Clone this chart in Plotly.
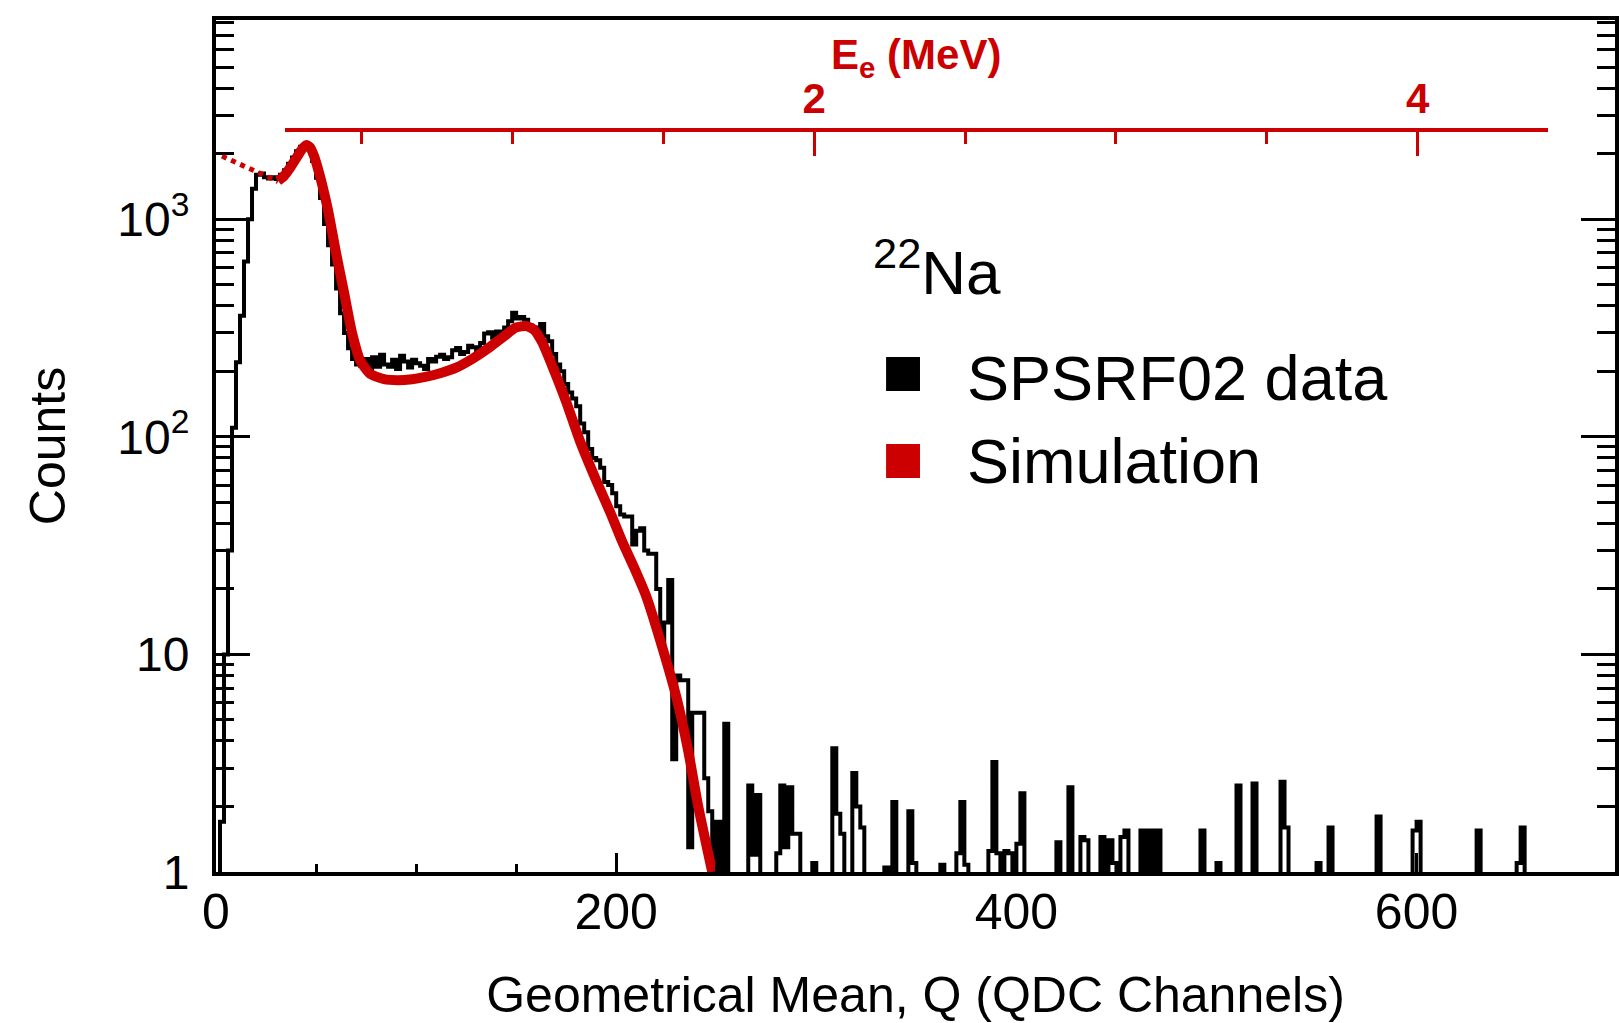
import plotly.graph_objects as go

# ---------------- data ----------------
BIN_WIDTH = 2.0  # QDC channels per histogram bin

# SPSRF02 data: counts of consecutive 2-channel bins starting at Q = 0
main_counts = [
    0, 1.7, 10, 30, 110, 220, 360, 640, 1000, 1380,            # 0-18
    1600, 1620, 1560, 1540, 1560, 1530, 1600, 1680, 1800, 1920,  # 20-38
    2050, 2150, 2200, 2100, 1850, 1550, 1250, 950, 760, 620,     # 40-58
    480, 370, 300, 255, 228, 215, 212, 228, 205, 232,            # 60-78
    210, 238, 215, 210, 226, 205, 236, 222, 208, 226,            # 80-98
    218, 212, 205, 228, 222, 233, 238, 228, 232, 250,            # 100-118
    256, 240, 245, 262, 258, 235, 270, 298, 302, 285,            # 120-138
    305, 300, 318, 340, 372, 350, 355, 345, 325, 318,            # 140-158
    300, 330, 290, 275, 240, 215, 200, 175, 160, 150,            # 160-178
    138, 115, 105, 88, 80, 78, 72, 62, 60, 55,                   # 180-198
    48, 44, 43, 43, 32, 37, 38, 30, 29, 29,                      # 200-218
    20, 11, 14, 22, 3.3, 8, 7.6, 7.6, 1.3, 5.4,                  # 220-238
    5.4, 5.4, 2.7, 1.9, 0, 1.7, 0, 4.8,                          # 240-254
]

# sparse high-Q tail: bin left edge (Q) and counts
tail_q = [266, 268, 270, 280, 282, 284, 286, 288, 290, 298,
          308, 310, 312, 318, 320, 322, 334, 338, 346, 348,
          362, 370, 372, 374, 386, 388, 390, 394, 396, 400,
          402, 420, 426, 432, 434, 442, 446, 448, 452, 454,
          462, 466, 470, 492, 500, 510, 518, 532, 534, 550,
          556, 580, 598, 600, 630, 650, 652]
tail_counts = [2.5, 1.2, 2.26, 1.22, 2.5, 1.3, 2.45, 1.5, 1.5, 1.1,
               3.7, 1.85, 1.5, 2.85, 2.0, 1.6, 1.05, 2.1, 1.9, 1.1,
               1.08, 1.22, 2.1, 1.08, 1.25, 3.2, 1.22, 1.25, 1.22, 1.35,
               2.3, 1.37, 2.45, 1.45, 1.4, 1.45, 1.4, 1.1, 1.45, 1.55,
               1.55, 1.55, 1.55, 1.55, 1.1, 2.5, 2.55, 2.6, 1.6, 1.1,
               1.6, 1.8, 1.55, 1.7, 1.55, 1.1, 1.6]

# Simulation curve (dotted extrapolation, then solid)
sim_dot_q = [3, 31]
sim_dot_y = [1950, 1490]
sim_q = [31, 34, 37, 40, 43, 45, 47, 49, 51, 53, 56, 60, 64, 68, 72, 77,
         84, 91, 98, 104, 112, 120, 128, 137, 144, 150, 155, 159, 163, 168,
         175, 182, 190, 197, 203, 209, 215, 223, 230, 236, 241, 248]
sim_y = [1500, 1580, 1720, 1900, 2100, 2190, 2140, 1950, 1700, 1450, 1100, 700, 460, 300, 225, 195,
         184, 182, 184, 188, 196, 208, 228, 259, 290, 318, 323, 310, 272, 212,
         145, 95, 63, 45, 33, 25, 18.5, 10.8, 6.4, 3.6, 2.0, 1.0]

y_tick_vals = [1, 10, 100, 1000]
y_tick_text = ["1", "10", "10<sup>2</sup>", "10<sup>3</sup>"]
y_minor_vals = [m * d for d in (1, 10, 100, 1000) for m in range(2, 10)]
e_tick_vals = [2, 4]

# ---------------- figure ----------------
RED = "#cc0000"
FONT = "Liberation Sans, Arial, Helvetica, sans-serif"
W, H = 1619, 1023
PL, PR, PT, PB = 216, 1619, 20, 872


def fx(px):
    return (px - PL) / (PR - PL)


def fy(py):
    return (PB - py) / (PB - PT)


n_bins = 350
counts = [0.0] * n_bins
for i, c in enumerate(main_counts):
    counts[i] = c
for q, c in zip(tail_q, tail_counts):
    counts[int(round(q / BIN_WIDTH))] = c
FLOOR = 0.2  # empty bins are drawn below the frame (clipped), like ROOT
edges = [i * BIN_WIDTH for i in range(n_bins + 1)]
hy = [c if c > 0 else FLOOR for c in counts]
hy = hy + [hy[-1]]

fig = go.Figure()
fig.add_trace(go.Scatter(x=edges, y=hy, mode="lines", line=dict(color="black", width=4, shape="hv"),
                         hoverinfo="skip", showlegend=False))
fig.add_trace(go.Scatter(x=sim_dot_q, y=sim_dot_y, mode="lines",
                         line=dict(color=RED, width=5, dash="dot"), hoverinfo="skip", showlegend=False))
fig.add_trace(go.Scatter(x=sim_q, y=sim_y, mode="lines",
                         line=dict(color=RED, width=10, shape="spline", smoothing=0.6),
                         hoverinfo="skip", showlegend=False))
# anchor trace for the energy axis
fig.add_trace(go.Scatter(x=[1], y=[0.01], xaxis="x2", yaxis="y", mode="markers",
                         marker=dict(opacity=0), hoverinfo="skip", showlegend=False))

fig.update_layout(
    width=W, height=H,
    margin=dict(l=PL, r=W - PR, t=PT, b=H - PB, pad=0),
    paper_bgcolor="white", plot_bgcolor="rgba(0,0,0,0)",
    font=dict(family=FONT, color="black"),
    showlegend=False,
    xaxis=dict(
        range=[0, (PR - PL) / 2.0067], showgrid=False, zeroline=False,
        showline=True, linecolor="black", linewidth=4, mirror=True,
        ticks="inside", ticklen=19, tickwidth=3, tickcolor="black",
        tick0=0, dtick=200,
        minor=dict(ticks="inside", ticklen=8, tickwidth=3, tickcolor="black", dtick=50, tick0=0),
        tickfont=dict(size=50, family=FONT), ticklabelstandoff=-7,
        title=dict(text="Geometrical Mean, Q (QDC Channels)", font=dict(size=50, family=FONT), standoff=47),
    ),
    yaxis=dict(
        type="log", range=[0, (PB - PT) / 217.6], showgrid=False, zeroline=False,
        showline=True, linecolor="black", linewidth=4, mirror="ticks",
        ticks="inside", ticklen=34, tickwidth=3, tickcolor="black",
        tickvals=y_tick_vals, ticktext=y_tick_text,
        minor=dict(ticks="inside", ticklen=18, tickwidth=3, tickcolor="black", tickvals=y_minor_vals),
        tickfont=dict(size=48, family=FONT), ticklabelstandoff=13,
        title=dict(text="Counts", font=dict(size=50, family=FONT), standoff=37),
    ),
    xaxis2=dict(
        anchor="free", position=0.871, side="top",
        domain=[fx(285), fx(1552)], range=[0.245, 4.433],
        showgrid=False, zeroline=False,
        showline=True, linecolor=RED, linewidth=4,
        ticks="inside", ticklen=24, tickwidth=3, tickcolor=RED,
        tickvals=e_tick_vals,
        minor=dict(ticks="inside", ticklen=12, tickwidth=3, tickcolor=RED, dtick=0.5, tick0=0),
        tickfont=dict(size=42, color=RED, family=FONT, weight="bold"), ticklabelstandoff=-2,
    ),
)

# energy-axis title
fig.add_annotation(xref="paper", yref="paper", x=fx(918), y=fy(57), xanchor="center", yanchor="middle",
                   text="E<sub>e</sub> (MeV)", showarrow=False,
                   font=dict(size=42, family=FONT, color=RED, weight="bold"))

# legend (drawn by hand to match the original layout)
fig.add_shape(type="rect", xref="paper", yref="paper", x0=fx(888), x1=fx(922), y0=fy(391), y1=fy(357),
              fillcolor="black", line=dict(width=0))
fig.add_shape(type="rect", xref="paper", yref="paper", x0=fx(888), x1=fx(922), y0=fy(478), y1=fy(444),
              fillcolor=RED, line=dict(width=0))
fig.add_annotation(xref="paper", yref="paper", x=fx(967), y=fy(378), xanchor="left", yanchor="middle",
                   text="SPSRF02 data", showarrow=False, font=dict(size=63, family=FONT, color="black"))
fig.add_annotation(xref="paper", yref="paper", x=fx(967), y=fy(461), xanchor="left", yanchor="middle",
                   text="Simulation", showarrow=False, font=dict(size=63, family=FONT, color="black"))
fig.add_annotation(xref="paper", yref="paper", x=fx(873), y=fy(268), xanchor="left", yanchor="middle",
                   text="<sup>22</sup>Na", showarrow=False, font=dict(size=62, family=FONT, color="black"))

fig.write_html("out.html")
